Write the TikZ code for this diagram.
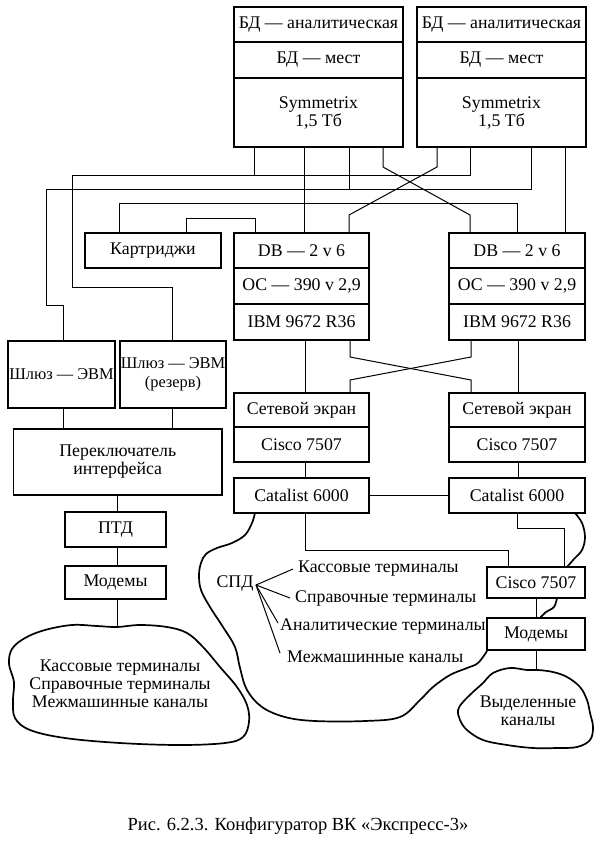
\documentclass[tikz,border=0pt]{standalone}
\usepackage{fontspec}
\setmainfont{Liberation Serif}
\newcommand\dfont{\fontsize{17.8}{18}\selectfont}
\newcommand\gwfont{\fontsize{16.4}{19}\selectfont}
\newcommand\capfont{\fontsize{18.5}{20}\selectfont}
\tikzset{
  bx/.style={draw, line width=1.7pt, inner sep=0pt, align=center, font=\dfont},
  conn/.style={line width=1pt},
  cl/.style={line width=1.7pt, line join=round},
  lbl/.style={inner sep=0pt, font=\dfont, anchor=west},
}
\begin{document}
\begin{tikzpicture}[x=1pt,y=-1pt]
\useasboundingbox (0,0) rectangle (600,853);
\fill[white] (0,0) rectangle (600,853);

% ---- top storage boxes
\node[bx, minimum width=169pt, minimum height=35pt] (anL) at (318.5,24.5) {БД — аналитическая};
\node[bx, minimum width=169pt, minimum height=36pt] (mestL) at (318.5,60) {БД — мест};
\node[bx, minimum width=169pt, minimum height=69pt] (symL) at (318.5,112.5) {Symmetrix\\1,5 Тб};
\node[bx, minimum width=169pt, minimum height=35pt] (anR) at (501.5,24.5) {БД — аналитическая};
\node[bx, minimum width=169pt, minimum height=36pt] (mestR) at (501.5,60) {БД — мест};
\node[bx, minimum width=169pt, minimum height=69pt] (symR) at (501.5,112.5) {Symmetrix\\1,5 Тб};

% ---- mainframes
\node[bx, minimum width=136pt, minimum height=35pt] (kart) at (153,250.5) {Картриджи};
\node[bx, minimum width=135pt, minimum height=35pt] (dbL) at (301.5,250.5) {DB — 2 v 6};
\node[bx, minimum width=135pt, minimum height=36pt] (osL) at (301.5,286) {ОС — 390 v 2,9};
\node[bx, minimum width=135pt, minimum height=36pt] (ibmL) at (301.5,322) {IBM 9672 R36};
\node[bx, minimum width=136pt, minimum height=35pt] (dbR) at (517,250.5) {DB — 2 v 6};
\node[bx, minimum width=136pt, minimum height=36pt] (osR) at (517,286) {ОС — 390 v 2,9};
\node[bx, minimum width=136pt, minimum height=36pt] (ibmR) at (517,322) {IBM 9672 R36};

% ---- network
\node[bx, minimum width=135pt, minimum height=34pt] (netL) at (301.5,410) {Сетевой экран};
\node[bx, minimum width=135pt, minimum height=35pt] (ciscoL) at (301.5,444.5) {Cisco 7507};
\node[bx, minimum width=135pt, minimum height=35pt] (catL) at (301.5,495.5) {Catalist 6000};
\node[bx, minimum width=136pt, minimum height=34pt] (netR) at (517,410) {Сетевой экран};
\node[bx, minimum width=136pt, minimum height=35pt] (ciscoR) at (517,444.5) {Cisco 7507};
\node[bx, minimum width=136pt, minimum height=35pt] (catR) at (517,495.5) {Catalist 6000};
\node[bx, minimum width=98pt, minimum height=31pt] (ciscoS) at (536,582.5) {Cisco 7507};
\node[bx, minimum width=98pt, minimum height=32pt] (modR) at (536,634) {Модемы};

% ---- left column
\node[bx, font=\gwfont, minimum width=107pt, minimum height=67pt] (gwL) at (61.5,374.5) {Шлюз — ЭВМ};
\node[bx, font=\gwfont, minimum width=106pt, minimum height=67pt] (gwR) at (173,374.5) {Шлюз — ЭВМ\\(резерв)};
\node[bx, minimum width=208.5pt, minimum height=66pt] (sw) at (117.75,462) {Переключатель\\интерфейса};
\node[bx, minimum width=101pt, minimum height=35pt] (ptd) at (115.5,529.5) {ПТД};
\node[bx, minimum width=101pt, minimum height=33pt] (modL) at (115.5,582.5) {Модемы};

% ---- bend points
\coordinate (aW) at (72,176); \coordinate (aW2) at (72,287); \coordinate (aW3) at (172,287);
\coordinate (aL) at (254,176); \coordinate (aR) at (470,176);
\coordinate (bW) at (46,189); \coordinate (bW2) at (46,305); \coordinate (bW3) at (63.5,305);
\coordinate (bL) at (349,189); \coordinate (bR) at (531,189);
\coordinate (cK) at (119,203); \coordinate (cR) at (517,203);
\coordinate (kL) at (186,218); \coordinate (kR) at (255,218);
\coordinate (s1) at (304,190); \coordinate (s2) at (565,190);
\coordinate (t1) at (383,167); \coordinate (t2) at (470,215);
\coordinate (t3) at (437,167); \coordinate (t4) at (349,215);
\coordinate (u1) at (350,357); \coordinate (u2) at (471,380);
\coordinate (u3) at (471,357); \coordinate (u4) at (350,380);
\coordinate (v1) at (305,0); \coordinate (v2) at (518,0);
\coordinate (w1) at (305,550); \coordinate (w2) at (508,550);
\coordinate (w3) at (517,528); \coordinate (w4) at (564,528);
\coordinate (lx) at (117,0);
\coordinate (lc) at (117,627);
\coordinate (dtop) at (536,670);

% ---- connectors
\draw[conn] (symL.south -| aL) -- (aL);
\draw[conn] (symR.south -| aR) -- (aR) -- (aW) -- (aW2) -- (aW3) -- (gwR.north -| aW3);
\draw[conn] (symL.south -| bL) -- (bL);
\draw[conn] (symR.south -| bR) -- (bR) -- (bW) -- (bW2) -- (bW3) -- (gwL.north -| bW3);
\draw[conn] (kart.north -| cK) -- (cK) -- (cR) -- (dbR.north -| cR);
\draw[conn] (kart.north -| kL) -- (kL) -- (kR) -- (dbL.north -| kR);
\draw[conn] (symL.south -| s1) -- (dbL.north -| s1);
\draw[conn] (symR.south -| s2) -- (dbR.north -| s2);
\draw[conn] (symL.south -| t1) -- (t1) -- (t2) -- (dbR.north -| t2);
\draw[conn] (symR.south -| t3) -- (t3) -- (t4) -- (dbL.north -| t4);
\draw[conn] (ibmL.south -| u1) -- (u1) -- (u2) -- (netR.north -| u2);
\draw[conn] (ibmR.south -| u3) -- (u3) -- (u4) -- (netL.north -| u4);
\draw[conn] (ibmL.south -| v1) -- (netL.north -| v1);
\draw[conn] (ibmR.south -| v2) -- (netR.north -| v2);
\draw[conn] (ciscoL.south -| v1) -- (catL.north -| v1);
\draw[conn] (ciscoR.south -| v2) -- (catR.north -| v2);
\draw[conn] (catL.east) -- (catR.west);
\draw[conn] (catL.south -| w1) -- (w1) -- (w2) -- (ciscoS.north -| w2);
\draw[conn] (catR.south -| w3) -- (w3) -- (w4) -- (ciscoS.north -| w4);
\draw[conn] (ciscoS.south) -- (modR.north);
\draw[conn] (modR.south) -- (dtop);
\draw[conn] (gwL.south -| bW3) -- (sw.north -| bW3);
\draw[conn] (gwR.south -| aW3) -- (sw.north -| aW3);
\draw[conn] (sw.south -| lx) -- (ptd.north -| lx);
\draw[conn] (ptd.south -| lx) -- (modL.north -| lx);
\draw[conn] (modL.south -| lx) -- (lc);

% ---- СПД
\node[lbl, anchor=center] (spd) at (235,583) {СПД};
\coordinate (fan) at (256,585);
\node[lbl] (k1) at (298,569) {Кассовые терминалы};
\node[lbl] (k2) at (295,598) {Справочные терминалы};
\node[lbl] (k3) at (280,627) {Аналитические терминалы};
\node[lbl] (k4) at (287,657) {Межмашинные каналы};
\draw[conn] (fan) -- ([xshift=-5pt]k1.west);
\draw[conn] (fan) -- ([xshift=-5pt]k2.west);
\draw[conn] (fan) -- ([xshift=-2pt,yshift=4pt]k3.west);
\draw[conn] (fan) -- ([xshift=-7pt,yshift=4pt]k4.west);

% ---- clouds
\draw[cl] plot[smooth cycle, tension=0.6] coordinates {
 (117,627) (140,625) (167,627) (187,633) (203,647) (220,667) (237,687) (247,705)
 (249,722) (243,737) (225,743) (180,745) (120,743) (65,738) (30,730) (15,718)
 (13,700) (14,682) (9,664) (12,649) (25,638) (45,630) (72,625) (97,626)};
\node[inner sep=0pt, align=center, font=\dfont] (lcloud) at (120,684)
 {Кассовые терминалы\\Справочные терминалы\\Межмашинные каналы};

\draw[cl] plot[smooth, tension=0.6] coordinates {
 (255,513) (252,523) (245,535) (232,543) (217,548) (206,554) (201,563) (199,575)
 (201,590) (210,607) (223,627) (235,647) (240,668) (247,690) (262,707) (285,717)
 (315,721) (365,721) (400,717) (420,700) (433,687) (450,675) (467,668) (478,663) (487,651)};
\draw[cl] plot[smooth, tension=0.6] coordinates {(557,598) (554,607) (546,612) (540,618)};
\draw[cl] plot[smooth, tension=0.6] coordinates {(567,567) (574,559) (582,550) (585,537) (582,523) (575,513)};

\draw[cl] plot[smooth cycle, tension=0.6] coordinates {
 (538,670) (553,672) (567,677) (580,687) (587,700) (590,713) (593,727) (590,740)
 (577,747) (557,748) (533,748) (507,745) (483,740) (467,730) (460,720) (458,710)
 (463,702) (473,692) (483,683) (493,673) (510,668) (527,670)};
\node[inner sep=0pt, align=center, font=\dfont] (scloud) at (528,711) {Выделенные\\каналы};

% ---- caption
\node[inner sep=0pt, font=\capfont] (cap) at (298,826) {Рис. 6.2.3. Конфигуратор ВК «Экспресс-3»};
\end{tikzpicture}
\end{document}
